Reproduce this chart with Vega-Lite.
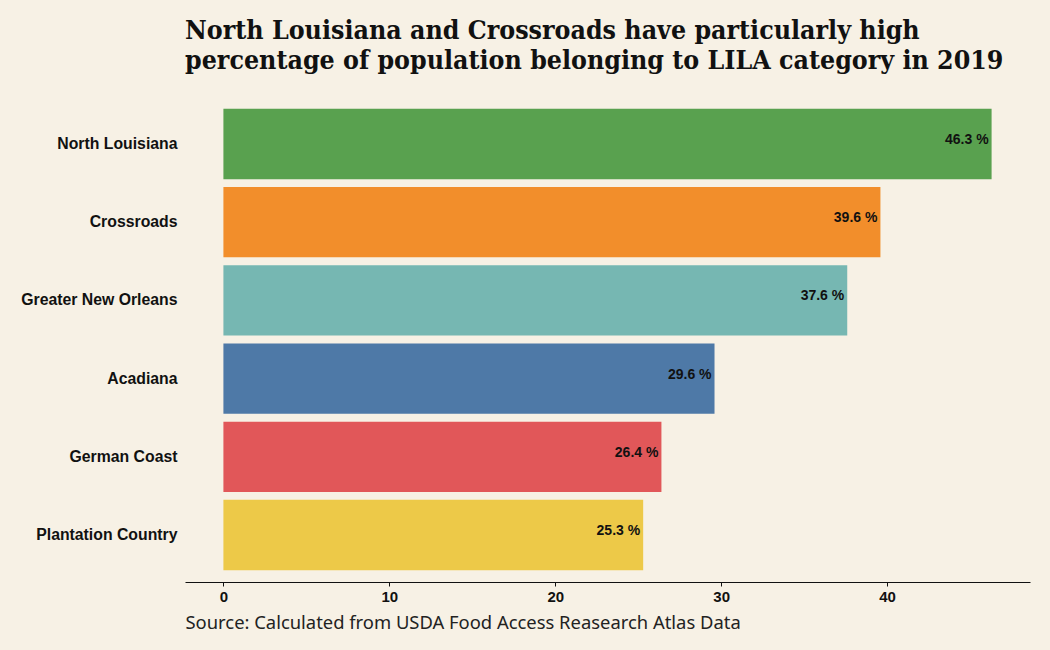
{
  "$schema": "https://vega.github.io/schema/vega-lite/v6.json",
  "width": 845,
  "height": 485,
  "autosize": "none",
  "padding": {"left": 185, "top": 97, "right": 20, "bottom": 68},
  "background": "#f7f1e5",
  "config": {"view": {"stroke": null}},
  "title": {
    "text": ["North Louisiana and Crossroads have particularly high", "percentage of population belonging to LILA category in 2019"],
    "anchor": "start",
    "frame": "group",
    "font": "DejaVu Serif Condensed",
    "fontSize": 26.5,
    "fontWeight": "bold",
    "color": "#111111",
    "lineHeight": 30,
    "offset": 23
  },
  "data": {
    "values": [
      {"region": "North Louisiana", "pct": 46.3, "label": "46.3 %"},
      {"region": "Crossroads", "pct": 39.6, "label": "39.6 %"},
      {"region": "Greater New Orleans", "pct": 37.6, "label": "37.6 %"},
      {"region": "Acadiana", "pct": 29.6, "label": "29.6 %"},
      {"region": "German Coast", "pct": 26.4, "label": "26.4 %"},
      {"region": "Plantation Country", "pct": 25.3, "label": "25.3 %"}
    ]
  },
  "encoding": {
    "y": {
      "field": "region",
      "type": "nominal",
      "sort": null,
      "scale": {"paddingInner": 0.1, "paddingOuter": 0.15},
      "axis": {
        "title": null,
        "domain": false,
        "ticks": false,
        "labelPadding": 8,
        "labelFont": "Liberation Sans",
        "labelFontSize": 15.8,
        "labelFontWeight": "bold",
        "labelColor": "#111111"
      }
    },
    "x": {
      "field": "pct",
      "type": "quantitative",
      "scale": {"domain": [-2.315, 48.615], "nice": false, "zero": false},
      "axis": {
        "values": [0, 10, 20, 30, 40],
        "grid": false,
        "title": "Source: Calculated from USDA Food Access Reasearch Atlas Data",
        "titleAnchor": "start",
        "titleAlign": "left",
        "titleFont": "Noto Sans",
        "titleFontSize": 18.4,
        "titleFontWeight": "normal",
        "titleColor": "#222222",
        "titlePadding": 9,
        "domainColor": "#111111",
        "domainWidth": 1.2,
        "tickColor": "#111111",
        "tickSize": 4,
        "labelFont": "Liberation Sans",
        "labelFontSize": 15,
        "labelFontWeight": "bold",
        "labelColor": "#111111",
        "labelPadding": 3
      }
    }
  },
  "layer": [
    {
      "mark": {"type": "bar"},
      "encoding": {
        "x2": {"datum": 0},
        "color": {
          "field": "region",
          "type": "nominal",
          "legend": null,
          "scale": {
            "domain": ["North Louisiana", "Crossroads", "Greater New Orleans", "Acadiana", "German Coast", "Plantation Country"],
            "range": ["#59a14f", "#f28e2b", "#76b7b2", "#4e79a7", "#e15759", "#edc948"]
          }
        }
      }
    },
    {
      "mark": {"type": "text", "align": "right", "dx": -3, "dy": -4, "font": "Liberation Sans", "fontSize": 14, "fontWeight": "bold", "color": "#111111"},
      "encoding": {
        "text": {"field": "label", "type": "nominal"}
      }
    }
  ]
}
